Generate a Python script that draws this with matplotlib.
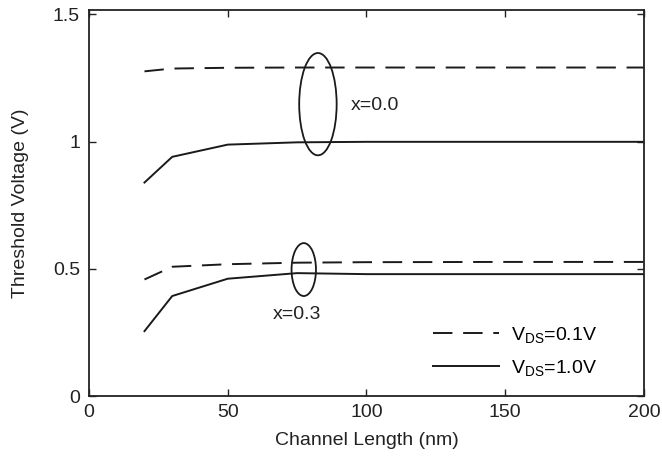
import matplotlib
matplotlib.use("Agg")
import matplotlib.pyplot as plt
from matplotlib.patches import Ellipse

plt.rcParams['font.family'] = ['Liberation Sans', 'DejaVu Sans']
plt.rcParams['mathtext.fontset'] = 'custom'
plt.rcParams['mathtext.rm'] = 'Liberation Sans'
plt.rcParams['mathtext.it'] = 'Liberation Sans'

# channel length (nm)
L = [20, 30, 50, 75, 100, 150, 200]
# x = 0.0
vt_x00_vds01 = [1.276, 1.287, 1.290, 1.291, 1.291, 1.291, 1.291]
vt_x00_vds10 = [0.839, 0.940, 0.988, 0.997, 0.999, 0.999, 0.999]
# x = 0.3
vt_x03_vds01 = [0.458, 0.508, 0.518, 0.524, 0.526, 0.527, 0.527]
vt_x03_vds10 = [0.255, 0.393, 0.461, 0.483, 0.479, 0.479, 0.479]

xticks = [0, 50, 100, 150, 200]
yticks = [0, 0.5, 1, 1.5]
ytick_labels = ['0', '0.5', '1', '1.5']

fs = 14
fig = plt.figure(figsize=(6.62, 4.68), dpi=100)
ax = fig.add_axes([0.1344, 0.1538, 0.8384, 0.8248])

dash = (0, (10, 5.5))
lw = 1.4
ax.plot(L, vt_x00_vds01, color='#1a1a1a', lw=lw, linestyle=dash, label=r'V$_{\mathrm{DS}}$=0.1V')
ax.plot(L, vt_x00_vds10, color='#1a1a1a', lw=lw, label=r'V$_{\mathrm{DS}}$=1.0V')
ax.plot(L, vt_x03_vds01, color='#1a1a1a', lw=lw, linestyle=dash)
ax.plot(L, vt_x03_vds10, color='#1a1a1a', lw=lw)

ax.add_patch(Ellipse((82.5, 1.147), 13.5, 0.402, fill=False, ec='#1a1a1a', lw=1.3))
ax.add_patch(Ellipse((77.4, 0.497), 8.8, 0.208, fill=False, ec='#1a1a1a', lw=1.3))
ax.text(94.5, 1.143, 'x=0.0', fontsize=fs, va='center', ha='left', color='#222222')
ax.text(75.0, 0.322, 'x=0.3', fontsize=fs, va='center', ha='center', color='#222222')

ax.set_xlim(0, 200)
ax.set_ylim(0, 1.517)
ax.set_xticks(xticks)
ax.set_yticks(yticks)
ax.set_yticklabels(ytick_labels)
ax.tick_params(direction='in', top=True, right=True, labelsize=fs, length=5,
               width=1, colors='#222222')
ax.tick_params(axis='y', pad=6.5)
ax.tick_params(axis='x', pad=6)
for s in ax.spines.values():
    s.set_linewidth(1.3)
    s.set_color('#222222')

ax.set_xlabel('Channel Length (nm)', fontsize=fs, labelpad=8, color='#222222')
ax.set_ylabel('Threshold Voltage (V)', fontsize=fs, labelpad=17, color='#222222')

ax.legend(loc='upper left', bbox_to_anchor=(0.620, 0.185), frameon=False,
          borderpad=0, borderaxespad=0, handlelength=3.4, handletextpad=0.6,
          labelspacing=0.68, fontsize=fs)

fig.savefig('out.png', dpi=100)
